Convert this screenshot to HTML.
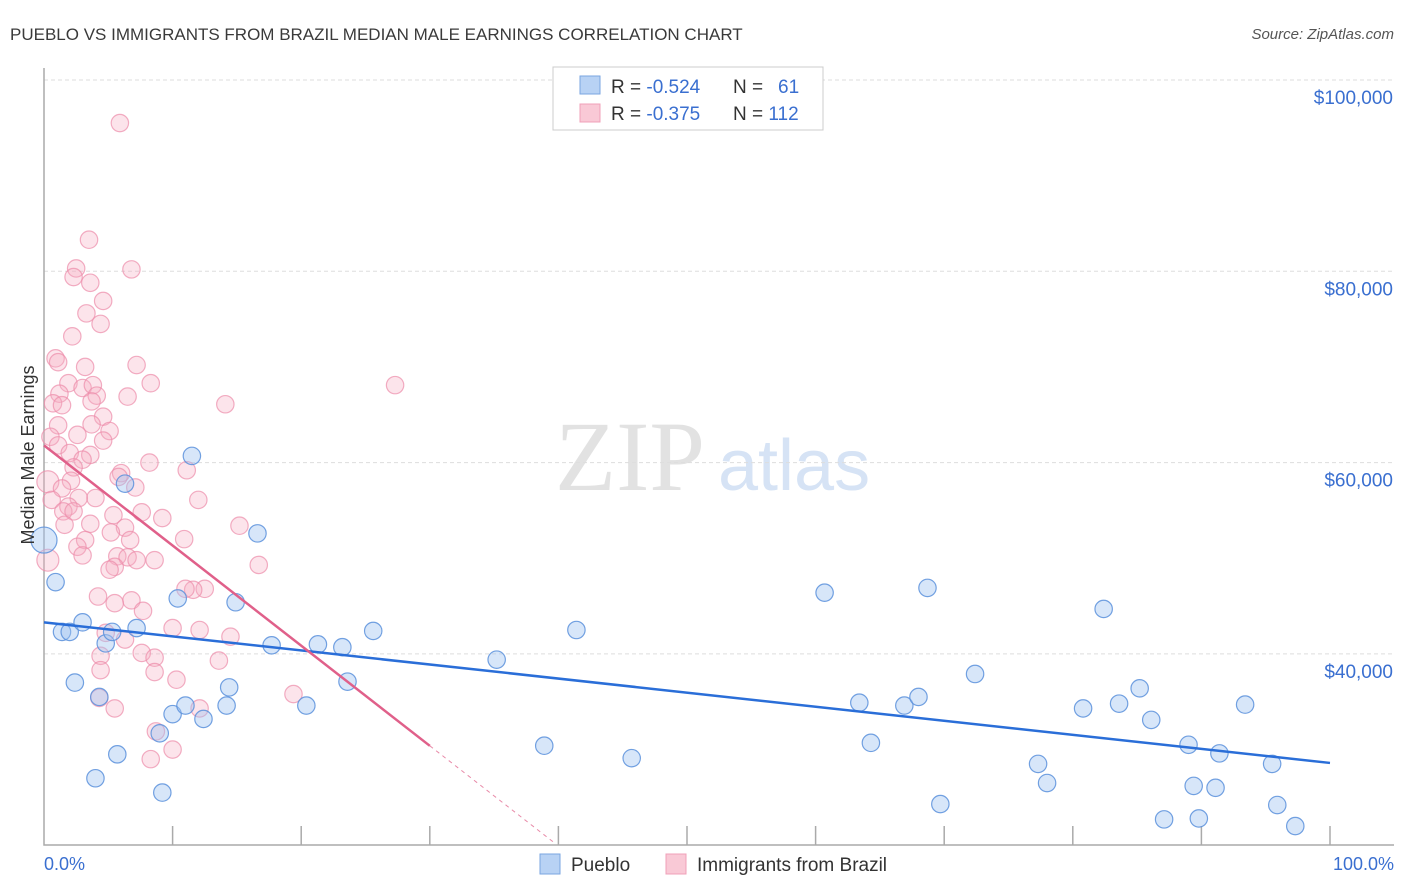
<!DOCTYPE html>
<html><head><meta charset="utf-8"><style>
body{margin:0;background:#fff;font-family:"Liberation Sans",sans-serif;}
svg{display:block}
</style></head><body>
<svg width="1406" height="892" id="chart">
<text x="10" y="40" font-size="17" fill="#3a3a3a">PUEBLO VS IMMIGRANTS FROM BRAZIL MEDIAN MALE EARNINGS CORRELATION CHART</text>
<text x="1394" y="39" font-size="15" fill="#555" font-style="italic" text-anchor="end">Source: ZipAtlas.com</text>
<text x="555" y="490" font-size="100" fill="#e2e2e2" font-family="Liberation Serif,serif">ZIP</text>
<text x="718" y="490" font-size="72" fill="#d6e3f5">atlas</text>
<g id="grid"></g><g id="axes"></g><g id="pts"></g><g id="lines"></g>
<text transform="translate(34,455) rotate(-90)" font-size="18" fill="#333" text-anchor="middle">Median Male Earnings</text>
<text x="44" y="870" font-size="18" fill="#3a6fd0">0.0%</text>
<text x="1394" y="870" font-size="18" fill="#3a6fd0" text-anchor="end">100.0%</text>
<g>
<rect x="553" y="67" width="270" height="63" fill="#fff" stroke="#ccc"/>
<rect x="580" y="76" width="20" height="18" fill="#b8d2f4" stroke="#7aa6e0"/>
<rect x="580" y="104" width="20" height="18" fill="#f9c9d6" stroke="#f0a0b8"/>
<text x="611" y="93" font-size="19" fill="#333">R = <tspan fill="#3a6fd0">-0.524</tspan></text>
<text x="733" y="93" font-size="19" fill="#333">N = <tspan x="778" fill="#3a6fd0">61</tspan></text>
<text x="611" y="120" font-size="19" fill="#333">R = <tspan fill="#3a6fd0">-0.375</tspan></text>
<text x="733" y="120" font-size="19" fill="#333">N = <tspan fill="#3a6fd0">112</tspan></text>
</g>
<g>
<rect x="540" y="854" width="20" height="20" fill="#b8d2f4" stroke="#7aa6e0"/>
<text x="571" y="871" font-size="19" fill="#333">Pueblo</text>
<rect x="666" y="854" width="20" height="20" fill="#f9c9d6" stroke="#f0a0b8"/>
<text x="697" y="871" font-size="19" fill="#333">Immigrants from Brazil</text>
</g>
</svg>
<script>
const yTicks=[40000,60000,80000,100000];
const yTickLabels=["$40,000","$60,000","$80,000","$100,000"];
const puebloX=[0.9,1.4,2.0,2.4,3.0,4.0,4.3,4.8,5.7,5.3,6.3,7.2,9.2,9.0,10.0,10.4,11.0,11.5,12.4,14.2,14.4,14.9,16.6,17.7,20.4,21.3,23.2,23.6,25.6,35.2,38.9,41.4,45.7,60.7,63.4,64.3,66.9,68.0,68.7,69.7,72.4,77.3,78.0,80.8,82.4,83.6,85.2,86.1,87.1,89.0,89.4,89.8,91.1,91.4,93.4,95.5,95.9,97.3,0];
const puebloY=[47.5,42.3,42.3,37.0,43.3,27.0,35.5,41.1,29.5,42.3,57.8,42.7,25.5,31.7,33.7,45.8,34.6,60.7,33.2,34.6,36.5,45.4,52.6,40.9,34.6,41.0,40.7,37.1,42.4,39.4,30.4,42.5,29.1,46.4,34.9,30.7,34.6,35.5,46.9,24.3,37.9,28.5,26.5,34.3,44.7,34.8,36.4,33.1,22.7,30.5,26.2,22.8,26.0,29.6,34.7,28.5,24.2,22.0,51.9];
const brazilX=[5.9,3.5,2.5,2.3,6.8,3.6,4.6,3.3,4.4,2.2,0.9,1.1,7.2,3.2,1.9,8.3,3.0,3.8,27.3,1.2,4.1,0.7,1.4,3.7,6.5,14.1,4.6,3.7,5.1,1.1,2.6,0.5,4.6,1.1,2.0,3.6,3.0,8.2,2.3,11.1,6.0,5.8,2.1,7.1,0.3,1.4,12.0,4.0,0.6,2.7,1.9,1.5,2.3,7.6,5.4,9.2,1.6,3.6,6.3,15.2,5.2,3.2,10.9,2.6,6.7,0.3,5.7,3.0,6.5,7.2,5.5,5.1,16.7,8.6,12.5,11.6,4.2,6.8,5.5,7.7,10.0,12.1,14.5,4.8,6.3,7.6,4.4,8.6,13.6,4.4,8.6,10.3,4.3,5.5,12.1,19.4,8.7,10.0,8.3,11.0];
const brazilY=[95.5,83.3,80.3,79.4,80.2,78.8,76.9,75.6,74.5,73.2,70.9,70.5,70.2,70.0,68.3,68.3,67.8,68.1,68.1,67.2,67.0,66.2,66.0,66.4,66.9,66.1,64.8,64.0,63.3,63.9,62.9,62.7,62.3,61.8,61.0,60.8,60.3,60.0,59.5,59.2,58.9,58.5,58.1,57.4,58.0,57.3,56.1,56.3,56.1,56.3,55.4,54.9,54.9,54.8,54.5,54.2,53.5,53.6,53.2,53.4,52.7,51.9,52.0,51.2,51.9,49.8,50.2,50.3,50.1,49.8,49.1,48.8,49.3,49.8,46.8,46.7,46.0,45.6,45.3,44.5,42.7,42.5,41.8,42.2,41.5,40.1,39.8,39.6,39.3,38.3,38.1,37.3,35.4,34.3,34.3,35.8,31.9,30.0,29.0,46.8];
const puebloTrend=[43.3,28.6];
const brazilTrend=[61.8,-1.047];
const NS='http://www.w3.org/2000/svg';
const X=p=>44+p*12.86, Y=v=>80+(100-v)*191.3/20;
function mk(t,a,par){const e=document.createElementNS(NS,t);for(const k in a)e.setAttribute(k,a[k]);document.getElementById(par).appendChild(e);return e;}
yTicks.forEach((t,i)=>{
 const g=mk('line',{x1:44,x2:1394,y1:Y(t/1000),y2:Y(t/1000),stroke:'#ddd','stroke-dasharray':'4,3'},'grid');
 
 
 const l=mk('text',{x:1393,y:Y(t/1000)+24,'font-size':19,fill:'#3a6fd0','text-anchor':'end'},'grid');
 l.textContent=yTickLabels[i];
 
 
});
const ax=mk('path',{d:'M44,68V845H1394',fill:'none',stroke:'#aaa','stroke-width':1.5},'axes');


for(let i=1;i<=10;i++){const t=mk('line',{x1:X(i*10),x2:X(i*10),y1:826,y2:845,stroke:'#aaa','stroke-width':1.5},'axes');
 
 }
brazilX.forEach((x,i)=>{const c=mk('circle',{cx:X(x),cy:Y(brazilY[i]),r:x<0.5?11:8.7,fill:'rgba(246,172,194,0.33)',stroke:'rgba(236,140,170,0.7)','stroke-width':1.2},'pts');
 
 });
puebloX.forEach((x,i)=>{const c=mk('circle',{cx:X(x),cy:Y(puebloY[i]),r:x===0?13:8.7,fill:'rgba(160,196,240,0.42)',stroke:'rgba(90,145,220,0.85)','stroke-width':1.2},'pts');
 
 });
const bl=mk('line',{x1:X(0),y1:Y(puebloTrend[0]),x2:X(100),y2:Y(puebloTrend[1]),stroke:'#2a6ed8','stroke-width':2.5},'lines');


const pl=mk('line',{x1:X(0),y1:Y(brazilTrend[0]),x2:X(30),y2:Y(brazilTrend[0]+brazilTrend[1]*30),stroke:'#e0608a','stroke-width':2.5},'lines');


const pd=mk('line',{x1:X(30),y1:Y(brazilTrend[0]+brazilTrend[1]*30),x2:X(39.6),y2:Y(brazilTrend[0]+brazilTrend[1]*39.6),stroke:'#e88aa8','stroke-width':1,'stroke-dasharray':'4,4'},'lines');


</script>
</body></html>
